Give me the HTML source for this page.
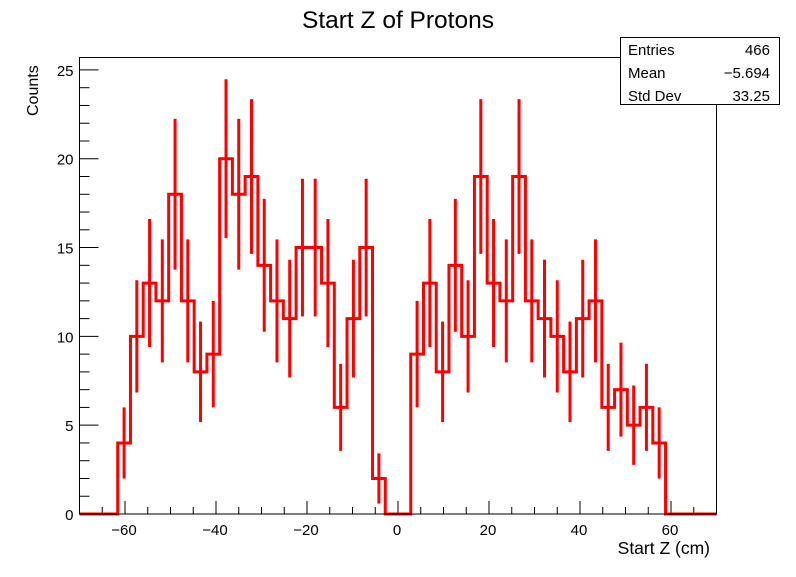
<!DOCTYPE html>
<html><head><meta charset="utf-8"><style>
body{margin:0;background:#fff;}
svg text{font-family:"Liberation Sans",Arial,sans-serif;}
</style></head><body>
<svg id="c" width="796" height="572" xmlns="http://www.w3.org/2000/svg">
<rect width="796" height="572" fill="#fff"/>
<text x="398" y="28" font-size="24.5" text-anchor="middle">Start Z of Protons</text>
<g id="axes"></g>
<g id="hist"></g>
<rect x="79.5" y="57.5" width="637" height="456.5" fill="none" stroke="#000" stroke-width="1"/>
<text transform="translate(38,116) rotate(-90)" font-size="16">Counts</text>
<text x="710" y="554" font-size="17.5" text-anchor="end">Start Z (cm)</text>
<g>
<rect x="620.5" y="37.5" width="159" height="67" fill="#fff" stroke="#000"/>
<text x="628" y="55" font-size="15">Entries</text><text x="770" y="55" font-size="15" text-anchor="end">466</text>
<text x="628" y="78" font-size="15">Mean</text><text x="770" y="78" font-size="15" text-anchor="end">−5.694</text>
<text x="628" y="101" font-size="15">Std Dev</text><text x="770" y="101" font-size="15" text-anchor="end">33.25</text>
</g>
</svg>
<script>
const binLow = -70, binWidth = 2.8;
const counts = [0,0,0,4,10,13,12,18,12,8,9,20,18,19,14,12,11,15,15,13,6,11,15,2,0,0,9,13,8,14,10,19,13,12,19,12,11,10,8,11,12,6,7,5,6,4,0,0,0,0];
const xTicks = [-60,-40,-20,0,20,40,60];
const yTicks = [0,5,10,15,20,25];
const X0=79.5,X1=716.5,Y0=514,YMAX=25.7,YTOP=57.5;
const sx=v=>X0+(v+70)/140*(X1-X0);
const sy=v=>Y0-v/YMAX*(Y0-YTOP);
const NS="http://www.w3.org/2000/svg";
const axes=document.getElementById('axes'),hist=document.getElementById('hist');
function mk(tag,attrs,parent){const e=document.createElementNS(NS,tag);for(const k in attrs)e.setAttribute(k,attrs[k]);parent.appendChild(e);return e;}
for(let v=-70;v<=70;v+=5){
  const major=v%20===0;
  const t=mk('line',{x1:sx(v),x2:sx(v),y1:Y0,y2:Y0-(major?13:7),stroke:'#000'},axes);
  
  
}
xTicks.forEach(v=>{const t=mk('text',{x:sx(v)-1,y:Y0+21,'font-size':15,'text-anchor':'middle'},axes);t.textContent=v<0?'−'+(-v):v;
  
  });
for(let v=0;v<=25;v+=1){
  const major=v%5===0;
  const t=mk('line',{x1:X0,x2:X0+(major?19:10),y1:sy(v),y2:sy(v),stroke:'#000'},axes);
  
  
}
yTicks.forEach(v=>{const t=mk('text',{x:X0-6,y:sy(v)+6,'font-size':15,'text-anchor':'end'},axes);t.textContent=v;
  
  });
let d='M'+sx(binLow)+','+sy(0);
counts.forEach((c,i)=>{const a=binLow+i*binWidth,b=a+binWidth;d+=' L'+sx(a)+','+sy(c)+' L'+sx(b)+','+sy(c);});
d+=' L'+sx(binLow+counts.length*binWidth)+','+sy(0);
const p=mk('path',{d:d,fill:'none',stroke:'#ff0000','stroke-width':3},hist);


counts.forEach((c,i)=>{if(c<=0)return;const cx=sx(binLow+(i+0.5)*binWidth),e=Math.sqrt(c);
  const l=mk('line',{x1:cx,x2:cx,y1:sy(c+e),y2:sy(Math.max(0,c-e)),stroke:'#ff0000','stroke-width':3},hist);
  
  });
</script>
</body></html>
